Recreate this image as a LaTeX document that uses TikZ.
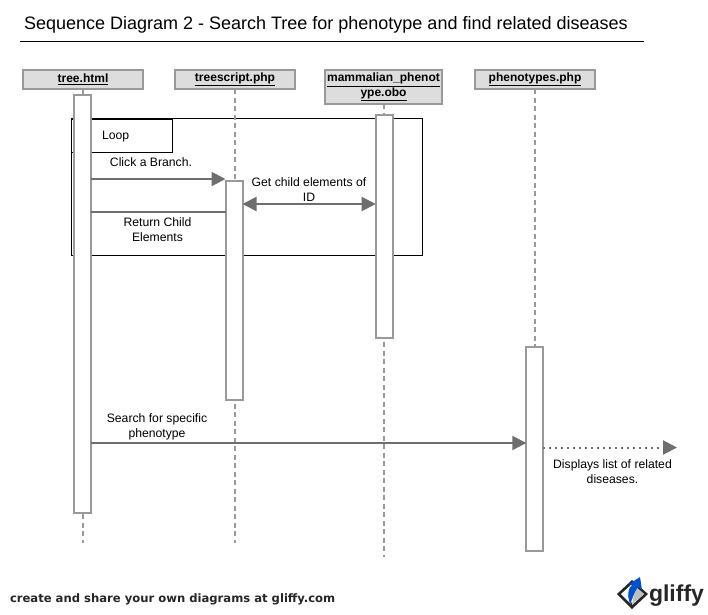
\documentclass[tikz,border=0pt]{standalone}
\usepackage{fontspec}
\setmainfont{Liberation Sans}
\newfontfamily\footfont{DejaVu Sans}
\usetikzlibrary{arrows.meta,positioning}
\definecolor{lineg}{HTML}{999999}
\definecolor{arrowg}{HTML}{6E6E6E}
\definecolor{headg}{HTML}{DDDDDD}
\tikzset{
  x=1pt,y=-1pt,
  every node/.style={font=\fontsize{12.2}{15}\selectfont,inner sep=0pt,outer sep=0pt,align=center},
  head/.style={draw=lineg,line width=2pt,fill=headg,font=\fontsize{12}{15}\selectfont\bfseries,text=black,minimum height=19pt},
  bar/.style={draw=lineg,line width=2pt,fill=white},
  life/.style={draw=lineg,line width=2pt,dash pattern=on 5pt off 3.5pt},
  msg/.style={draw=arrowg,line width=2pt,-{Triangle[length=14pt,width=14pt,fill=arrowg]}},
  msgboth/.style={draw=arrowg,line width=2pt,{Triangle[length=14pt,width=14pt,fill=arrowg]}-{Triangle[length=14pt,width=14pt,fill=arrowg]}},
  msgplain/.style={draw=arrowg,line width=2pt},
  frm/.style={draw=black,line width=1pt},
}
\newcommand{\barbox}[5]{\node[bar,minimum width=#3pt,minimum height=#4pt,anchor=north west] (#5) at (#1,#2) {};}
\newcommand{\hd}[1]{\raisebox{-0.8pt}{\underline{#1}}}
\begin{document}
\begin{tikzpicture}
\useasboundingbox (0,0) rectangle (708,614);
\fill[white] (0,0) rectangle (708,614);
\node[anchor=west,font=\fontsize{18}{21}\selectfont] (title) at (24,25) {Sequence Diagram 2 - Search Tree for phenotype and find related diseases};
\coordinate (ruleL) at (20,41.5);
\coordinate (ruleR) at (644,41.5);
\draw[black,line width=0.8pt] (ruleL) -- (ruleR);

% loop frame
\node[frm,minimum width=351pt,minimum height=137pt,anchor=north west] (loop) at (71.5,118.5) {};
\node[frm,minimum width=101pt,minimum height=33pt,anchor=north west] (loopTag) at (71.5,119) {};

% lifelines
\node[head,minimum width=119.4pt,anchor=north west] (h1) at (23.3,70) {\hd{tree.html}};
\node[head,minimum width=119.4pt,anchor=north west] (h2) at (175.3,70) {\hd{treescript.php}};
\node[head,minimum width=117pt,minimum height=34pt,anchor=north west] (h3) at (325,70) {\hd{mammalian\_phenot}\\[-0.5pt]\hd{ype.obo}};
\node[head,minimum width=119.4pt,anchor=north west] (h4) at (475.3,70) {\hd{phenotypes.php}};

\coordinate (e1) at (83,543);
\coordinate (e2) at (235,543);
\coordinate (e3) at (384,557);
\coordinate (e4) at (535,347);
\draw[life] (h1.south -| e1) -- (e1);
\draw[life] (h2.south -| e2) -- (e2);
\draw[life] (h3.south -| e3) -- (e3);
\draw[life] (h4.south -| e4) -- (e4);

\barbox{73.7}{95.3}{16.8}{418}{a1}
\barbox{225.5}{181}{17}{219}{a2}
\barbox{375.7}{115}{17}{223}{a3}
\barbox{526.3}{347}{17}{204}{a4}

\node[anchor=west] (loopLabel) at (102,137) {Loop};
\node (t1) at (151,162.5) {Click a Branch.};
\node (t2) at (309,190) {Get child elements of\\ID};
\node (t3) at (157.5,230) {Return Child\\Elements};
\node (t4) at (157,426.5) {Search for specific\\phenotype};
\node (t5) at (612.5,472) {Displays list of related\\diseases.};

\coordinate (s1) at (a1.east |- 0,179);
\coordinate (s2) at (a1.east |- 0,212);
\coordinate (s4) at (a1.east |- 0,443);
\draw[msg] (s1) -- (a2.west |- s1);
\draw[msgplain] (s2) -- (a2.west |- s2);
\draw[msgboth] (a2.east |- 0,204) -- (a3.west |- 0,204);
\draw[msg] (s4) -- (a4.west |- s4);
\coordinate (free) at (677,447.5);
\draw[draw=arrowg,line width=2pt,dash pattern=on 2pt off 4pt,-{Triangle[length=14pt,width=14pt,fill=arrowg]}] (a4.east |- free) -- (free);

% footer
\node[anchor=west,font=\footfont\bfseries\fontsize{11.6}{13}\selectfont,text=black!85] (foot) at (10,599.5) {create and share your own diagrams at gliffy.com};
\node[anchor=west,font=\fontsize{23}{26}\bfseries\selectfont,text=black!85] (gl) at (649,596) {gliffy};
\fill[black!85] (617,594) -- (632,580) -- (648,594) -- (632,609) -- cycle;
\fill[white] (621,594) -- (632,584) -- (644,594) -- (632,605) -- cycle;
\fill[black!25] (632,604) -- (644,594) -- (636,587) -- cycle;
\fill[black!85] (632,609) -- (628,594) -- (632,604) -- cycle;
\fill[blue!60!cyan!80!black] (630,604) .. controls (627,595) and (628,588) .. (632,585) -- (629,584) -- (640,577) -- (642,590) -- (638,587) .. controls (634,592) and (633,598) .. (630,604) -- cycle;
\end{tikzpicture}
\end{document}
